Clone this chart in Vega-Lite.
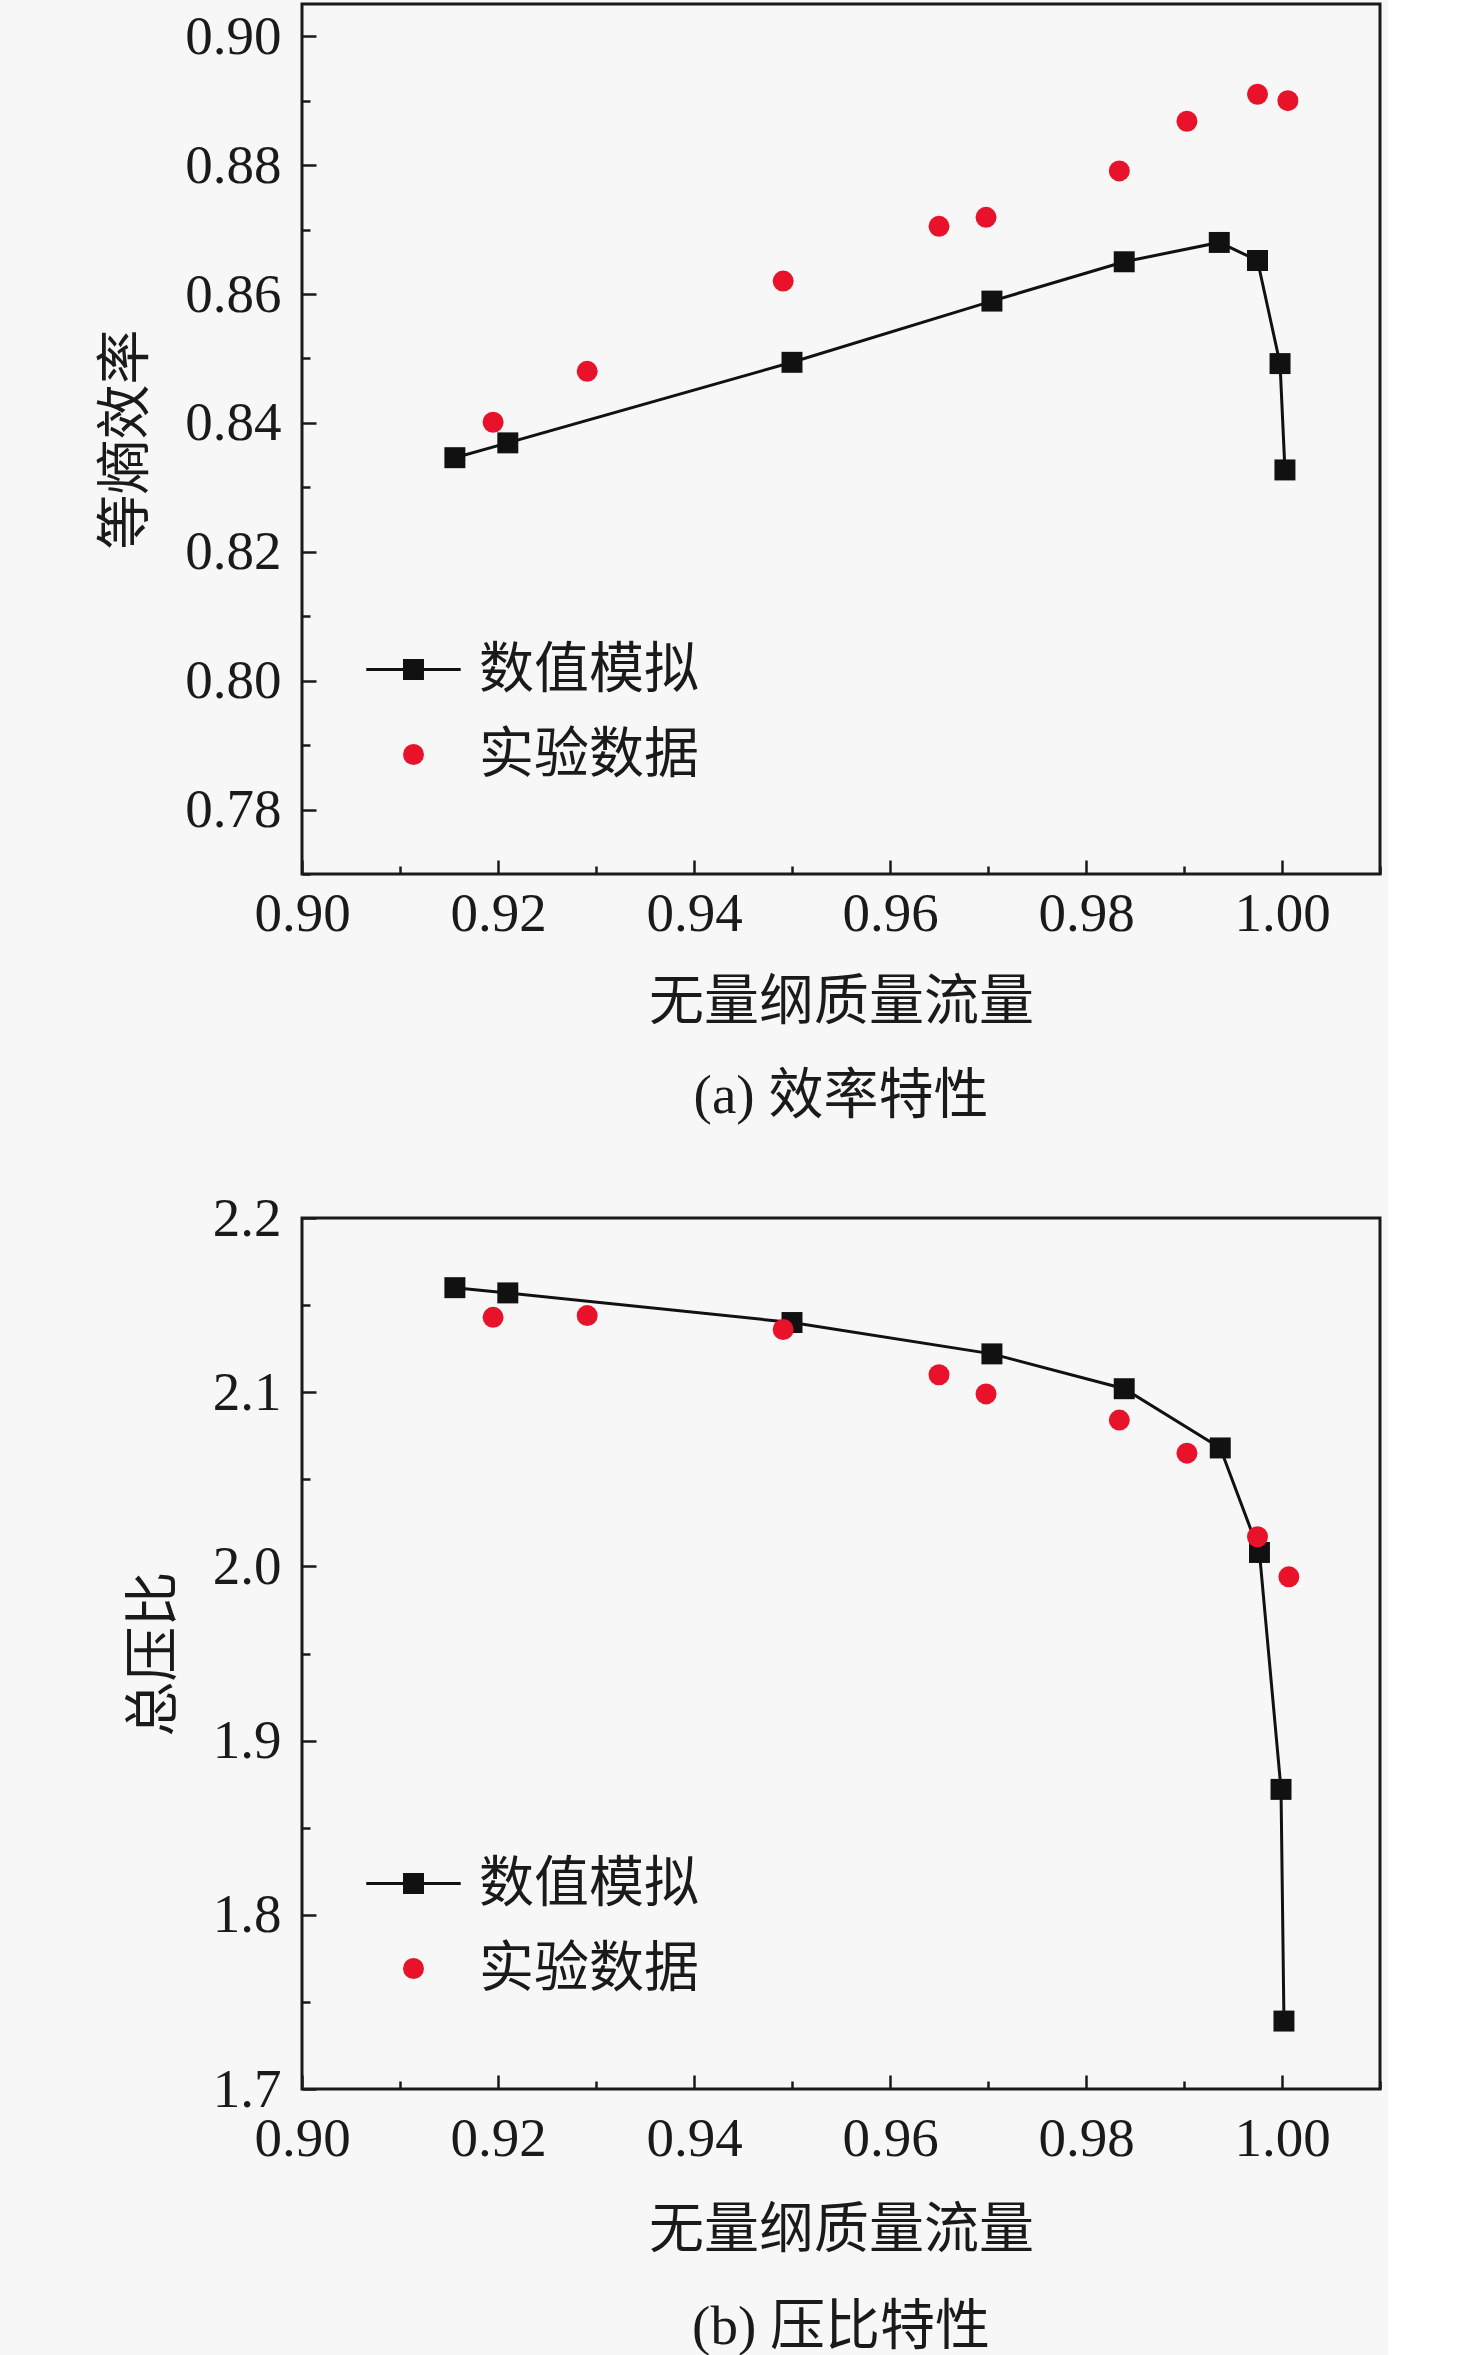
{
  "$schema": "https://vega.github.io/schema/vega-lite/v6.json",
  "background": "#f7f7f7",
  "padding": {"left": 97, "top": 2, "right": 5, "bottom": 5},
  "datasets": {
    "eff": [
      {"s": "数值模拟", "x": 0.9156, "y": 0.8346},
      {"s": "数值模拟", "x": 0.9210, "y": 0.8369},
      {"s": "数值模拟", "x": 0.9500, "y": 0.8494},
      {"s": "数值模拟", "x": 0.9704, "y": 0.8589},
      {"s": "数值模拟", "x": 0.9839, "y": 0.8650},
      {"s": "数值模拟", "x": 0.9936, "y": 0.8680},
      {"s": "数值模拟", "x": 0.9975, "y": 0.8652},
      {"s": "数值模拟", "x": 0.9998, "y": 0.8492},
      {"s": "数值模拟", "x": 1.0003, "y": 0.8327},
      {"s": "实验数据", "x": 0.9195, "y": 0.8401},
      {"s": "实验数据", "x": 0.9291, "y": 0.8480},
      {"s": "实验数据", "x": 0.9491, "y": 0.8620},
      {"s": "实验数据", "x": 0.9650, "y": 0.8705},
      {"s": "实验数据", "x": 0.9698, "y": 0.8719},
      {"s": "实验数据", "x": 0.9834, "y": 0.8791},
      {"s": "实验数据", "x": 0.9903, "y": 0.8868},
      {"s": "实验数据", "x": 0.9975, "y": 0.8910},
      {"s": "实验数据", "x": 1.0006, "y": 0.8900}
    ],
    "pr": [
      {"s": "数值模拟", "x": 0.9156, "y": 2.160},
      {"s": "数值模拟", "x": 0.9210, "y": 2.157},
      {"s": "数值模拟", "x": 0.9500, "y": 2.140},
      {"s": "数值模拟", "x": 0.9704, "y": 2.122},
      {"s": "数值模拟", "x": 0.9839, "y": 2.102},
      {"s": "数值模拟", "x": 0.9937, "y": 2.068},
      {"s": "数值模拟", "x": 0.9977, "y": 2.008},
      {"s": "数值模拟", "x": 0.9999, "y": 1.872},
      {"s": "数值模拟", "x": 1.0002, "y": 1.739},
      {"s": "实验数据", "x": 0.9195, "y": 2.143},
      {"s": "实验数据", "x": 0.9291, "y": 2.144},
      {"s": "实验数据", "x": 0.9491, "y": 2.136},
      {"s": "实验数据", "x": 0.9650, "y": 2.110},
      {"s": "实验数据", "x": 0.9698, "y": 2.099},
      {"s": "实验数据", "x": 0.9834, "y": 2.084},
      {"s": "实验数据", "x": 0.9903, "y": 2.065},
      {"s": "实验数据", "x": 0.9975, "y": 2.017},
      {"s": "实验数据", "x": 1.0007, "y": 1.994}
    ]
  },
  "resolve": {"scale": {"color": "independent", "shape": "independent"}},
  "vconcat": [
    {
      "width": 1078,
      "height": 870,
      "data": {"name": "eff"},
      "title": "(a) 效率特性",
      "encoding": {
        "x": {
          "field": "x", "type": "quantitative",
          "scale": {"domain": [0.90, 1.01], "nice": false, "zero": false},
          "axis": {
            "title": "无量纲质量流量",
            "values": [0.90, 0.91, 0.92, 0.93, 0.94, 0.95, 0.96, 0.97, 0.98, 0.99, 1.00, 1.01],
            "labelExpr": "round(datum.value*100)%2===0 ? format(datum.value,'.2f') : ''",
            "tickSize": {"condition": {"test": "round(datum.value*100)%2===0", "value": -14}, "value": -8}
          }
        },
        "y": {
          "field": "y", "type": "quantitative",
          "scale": {"domain": [0.77, 0.905], "nice": false, "zero": false},
          "axis": {
            "title": "等熵效率",
            "values": [0.77, 0.78, 0.79, 0.80, 0.81, 0.82, 0.83, 0.84, 0.85, 0.86, 0.87, 0.88, 0.89, 0.90],
            "labelExpr": "round(datum.value*100)%2===0 ? format(datum.value,'.2f') : ''",
            "tickSize": {"condition": {"test": "round(datum.value*100)%2===0", "value": -14}, "value": -8}
          }
        }
      },
      "layer": [
        {
          "transform": [{"filter": "datum.s === '数值模拟'"}],
          "mark": {"type": "line", "color": "#111111", "strokeWidth": 3}
        },
        {
          "mark": {"type": "point", "filled": true, "opacity": 1, "size": 440},
          "encoding": {
            "color": {
              "field": "s", "type": "nominal",
              "scale": {"domain": ["数值模拟", "实验数据"], "range": ["#111111", "#e8132b"]},
              "legend": {
                "orient": "none", "legendX": 84, "legendY": 638,
                "title": null, "padding": 0,
                "labelOffset": 38, "rowPadding": 29, "labelLimit": 0, "symbolSize": 440,
                "symbolStrokeWidth": 0, "symbolOpacity": 1,
                "symbolType": {"expr": "datum.value === '数值模拟' ? 'M-4.5,-0.14H-1V-1H1V-0.14H4.5V0.14H1V1H-1V0.14H-4.5Z' : 'circle'"}
              }
            },
            "shape": {
              "field": "s", "type": "nominal",
              "scale": {"domain": ["实验数据", "数值模拟"], "range": ["circle", "square"]},
              "legend": null
            }
          }
        }
      ]
    },
    {
      "width": 1078,
      "height": 871,
      "data": {"name": "pr"},
      "title": {"text": "(b) 压比特性", "offset": 44},
      "encoding": {
        "x": {
          "field": "x", "type": "quantitative",
          "scale": {"domain": [0.90, 1.01], "nice": false, "zero": false},
          "axis": {
            "title": "无量纲质量流量",
            "labelPadding": 37, "titlePadding": 31,
            "values": [0.90, 0.91, 0.92, 0.93, 0.94, 0.95, 0.96, 0.97, 0.98, 0.99, 1.00, 1.01],
            "labelExpr": "round(datum.value*100)%2===0 ? format(datum.value,'.2f') : ''",
            "tickSize": {"condition": {"test": "round(datum.value*100)%2===0", "value": -14}, "value": -8}
          }
        },
        "y": {
          "field": "y", "type": "quantitative",
          "scale": {"domain": [1.7, 2.2], "nice": false, "zero": false},
          "axis": {
            "title": "总压比",
            "values": [1.70, 1.75, 1.80, 1.85, 1.90, 1.95, 2.00, 2.05, 2.10, 2.15, 2.20],
            "labelExpr": "round(datum.value*20)%2===0 ? format(datum.value,'.1f') : ''",
            "tickSize": {"condition": {"test": "round(datum.value*20)%2===0", "value": -14}, "value": -8}
          }
        }
      },
      "layer": [
        {
          "transform": [{"filter": "datum.s === '数值模拟'"}],
          "mark": {"type": "line", "color": "#111111", "strokeWidth": 3}
        },
        {
          "mark": {"type": "point", "filled": true, "opacity": 1, "size": 440},
          "encoding": {
            "color": {
              "field": "s", "type": "nominal",
              "scale": {"domain": ["数值模拟", "实验数据"], "range": ["#111111", "#e8132b"]},
              "legend": {
                "orient": "none", "legendX": 84, "legendY": 638,
                "title": null, "padding": 0,
                "labelOffset": 38, "rowPadding": 29, "labelLimit": 0, "symbolSize": 440,
                "symbolStrokeWidth": 0, "symbolOpacity": 1,
                "symbolType": {"expr": "datum.value === '数值模拟' ? 'M-4.5,-0.14H-1V-1H1V-0.14H4.5V0.14H1V1H-1V0.14H-4.5Z' : 'circle'"}
              }
            },
            "shape": {
              "field": "s", "type": "nominal",
              "scale": {"domain": ["实验数据", "数值模拟"], "range": ["circle", "square"]},
              "legend": null
            }
          }
        }
      ]
    }
  ],
  "config": {
    "view": {"stroke": "#1a1a1a", "strokeWidth": 3},
    "concat": {"spacing": 63},
    "axis": {
      "labelFont": "Liberation Serif", "labelFontSize": 55, "labelColor": "#1a1a1a",
      "titleFont": "Noto Sans CJK SC", "titleFontSize": 55, "titleFontWeight": "normal", "titleColor": "#1a1a1a",
      "tickColor": "#1a1a1a", "tickWidth": 2.5, "grid": false, "domain": false,
      "labelFlush": false, "labelOverlap": false
    },
    "axisX": {"labelPadding": 27, "titlePadding": 28},
    "axisY": {"labelPadding": 35, "titlePadding": 30},
    "legend": {"labelFont": "Noto Sans CJK SC", "labelFontSize": 55, "labelColor": "#1a1a1a", "labelBaseline": "middle"},
    "title": {"font": "Liberation Serif, Noto Sans CJK SC", "fontSize": 55, "fontWeight": "normal", "color": "#1a1a1a", "orient": "bottom", "anchor": "middle", "frame": "group", "offset": 41}
  }
}
